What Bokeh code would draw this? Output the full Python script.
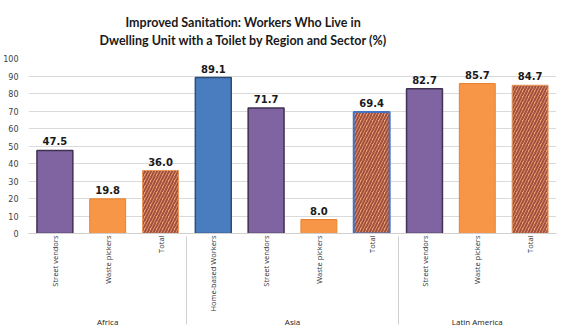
from bokeh.plotting import figure
from bokeh.models import FactorRange, ColumnDataSource, Title, SingleIntervalTicker, Range1d
from bokeh.core.properties import value
from bokeh.embed import file_html
from bokeh.resources import INLINE

regions = ["Africa", "Africa", "Africa", "Asia", "Asia", "Asia", "Asia",
           "Latin America", "Latin America", "Latin America"]
sectors = ["Street vendors", "Waste pickers", "Total", "Home-based Workers",
           "Street vendors", "Waste pickers", "Total",
           "Street vendors", "Waste pickers", "Total"]
values = [47.5, 19.8, 36.0, 89.1, 71.7, 8.0, 69.4, 82.7, 85.7, 84.7]

factors = list(zip(regions, sectors))
title1 = "Improved Sanitation: Workers Who Live in"
title2 = "Dwelling Unit with a Toilet by Region and Sector (%)"

p = figure(width=580, height=330, x_range=FactorRange(*factors, range_padding=0,
           group_padding=0, factor_padding=0, subgroup_padding=0),
           y_range=Range1d(0, 100), output_backend="svg", toolbar_location=None,
           min_border_left=27, min_border_right=24, min_border_top=58,
           background_fill_color="white", border_fill_color="white")
p.outline_line_color = None

def pick(cond):
    idx = [i for i in range(len(values)) if cond(i)]
    return ColumnDataSource(dict(x=[factors[i] for i in idx], top=[values[i] for i in idx]))

purple = pick(lambda i: sectors[i] == "Street vendors")
orange = pick(lambda i: sectors[i] == "Waste pickers")
blue = pick(lambda i: sectors[i] == "Home-based Workers")
tot_asia = pick(lambda i: sectors[i] == "Total" and regions[i] == "Asia")
tot_other = pick(lambda i: sectors[i] == "Total" and regions[i] != "Asia")

W = 0.68
p.vbar(x="x", top="top", width=W, source=purple, fill_color="#8064A2",
       line_color="#3F3151", line_width=1.5)
p.vbar(x="x", top="top", width=W, source=orange, fill_color="#F79646",
       line_color="#E8822E", line_width=1)
p.vbar(x="x", top="top", width=W, source=blue, fill_color="#4A7DC0",
       line_color="#2C4D75", line_width=1.5)
p.vbar(x="x", top="top", width=W, source=tot_other, fill_color="#F4A676",
       line_color="#E8955A", line_width=1, hatch_pattern="/",
       hatch_color="#A0503E", hatch_scale=6, hatch_weight=2.0)
p.vbar(x="x", top="top", width=W, source=tot_asia, fill_color="#F4A676",
       line_color="#4472C4", line_width=2, hatch_pattern="/",
       hatch_color="#A0503E", hatch_scale=6, hatch_weight=2.0)

lab = ColumnDataSource(dict(x=factors, y=values, t=["%.1f" % v for v in values]))
p.text(x="x", y="y", text="t", source=lab, text_align="center",
       text_baseline="bottom", y_offset=-5, text_font=value("DejaVu Sans"),
       text_font_style="bold", text_font_size="10px", text_color="#1a1a1a")

p.yaxis.ticker = SingleIntervalTicker(interval=10)
p.yaxis.axis_line_color = None
p.yaxis.major_tick_line_color = None
p.yaxis.minor_tick_line_color = None
p.yaxis.major_label_text_font_size = "8px"
p.yaxis.major_label_text_font = "DejaVu Sans"
p.yaxis.major_label_text_color = "#404040"
p.yaxis.major_label_standoff = 4
p.ygrid.grid_line_color = "#DADADA"
p.xgrid.grid_line_color = None

p.xaxis.major_label_orientation = 1.5708
p.xaxis.major_label_text_font_size = "7.5px"
p.xaxis.major_label_text_font = "Open Sans"
p.xaxis.major_label_text_color = "#303030"
p.xaxis.major_label_standoff = 2
p.xaxis.major_tick_out = 0
p.xaxis.major_tick_in = 0
p.xaxis.group_text_font_size = "8px"
p.xaxis.group_text_font = "Open Sans"
p.xaxis.group_text_color = "#202020"
p.xaxis.group_text_font_style = "normal"
p.xaxis.axis_line_color = "#D0D0D0"
p.xaxis.major_tick_line_color = None
p.xaxis.separator_line_color = "#D0D0D0"
p.xaxis.separator_line_width = 1

# spacer between plot area and title block
p.add_layout(Title(text=" ", text_font_size="2px", standoff=6), "above")
p.add_layout(Title(text=title2, align="left", text_font="Lato", standoff=2, offset=71,
                   text_font_size="12.5px", text_font_style="bold", text_color="#1a1a1a"), "above")
p.add_layout(Title(text=title1, align="left", text_font="Lato", standoff=0, offset=97,
                   text_font_size="12.5px", text_font_style="bold", text_color="#1a1a1a"), "above")

open("out.html", "w").write(file_html(p, INLINE))
